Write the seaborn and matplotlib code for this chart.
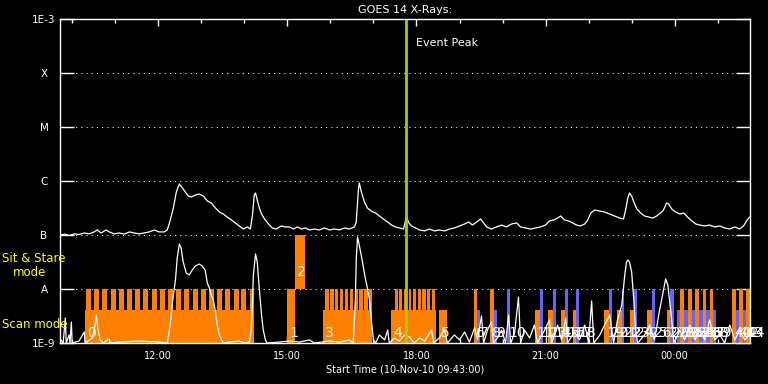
### Bibliotheken
import numpy as np
import matplotlib
matplotlib.use("Agg")
import matplotlib.pyplot as plt
from matplotlib.ticker import MultipleLocator, NullLocator
import seaborn as sns


### Daten
title = "GOES 14 X-Rays:"
x_label = "Start Time (10-Nov-10 09:43:00)"
time_start = "09:43"
time_end = "01:45"
event_peak = "17:46"

flux_ticks = [1e-9, 1e-8, 1e-7, 1e-6, 1e-5, 1e-4, 1e-3]
flux_labels = ["1E-9", "A", "B", "C", "M", "X", "1E-3"]
hour_ticks = ["12:00", "15:00", "18:00", "21:00", "00:00"]

# GOES Fluss (Stunden seit 10-Nov 00:00, W/m^2)
goes_time = [9.72, 9.84, 9.93, 10.05, 10.16, 10.28, 10.40, 10.51, 10.58, 10.67,
             10.79, 10.86, 10.98, 11.09, 11.21, 11.33, 11.44, 11.56, 11.67, 11.79,
             11.91, 12.02, 12.14, 12.21, 12.28, 12.35, 12.42, 12.49, 12.56, 12.63,
             12.70, 12.77, 12.86, 12.95, 13.05, 13.14, 13.23, 13.33, 13.42, 13.51,
             13.60, 13.70, 13.79, 13.88, 13.98, 14.07, 14.14, 14.19, 14.23, 14.26,
             14.30, 14.35, 14.40, 14.47, 14.56, 14.65, 14.74, 14.86, 14.95, 15.05,
             15.14, 15.23, 15.33, 15.42, 15.51, 15.63, 15.74, 15.86, 15.98, 16.09,
             16.21, 16.33, 16.44, 16.56, 16.60, 16.65, 16.67, 16.72, 16.79, 16.86,
             16.95, 17.05, 17.14, 17.23, 17.33, 17.42, 17.51, 17.60, 17.70, 17.77,
             17.81, 17.88, 17.98, 18.07, 18.19, 18.30, 18.42, 18.53, 18.65, 18.77,
             18.88, 19.00, 19.12, 19.21, 19.30, 19.40, 19.49, 19.56, 19.63, 19.74,
             19.86, 19.98, 20.09, 20.21, 20.33, 20.42, 20.53, 20.65, 20.77, 20.88,
             21.00, 21.09, 21.19, 21.28, 21.35, 21.44, 21.53, 21.63, 21.72, 21.81,
             21.91, 21.98, 22.05, 22.14, 22.26, 22.37, 22.49, 22.60, 22.72, 22.81,
             22.86, 22.91, 22.95, 23.00, 23.05, 23.12, 23.21, 23.30, 23.40, 23.49,
             23.58, 23.67, 23.74, 23.81, 23.86, 23.93, 24.02, 24.12, 24.21, 24.30,
             24.40, 24.49, 24.58, 24.70, 24.81, 24.93, 25.05, 25.16, 25.28, 25.40,
             25.51, 25.60, 25.67, 25.74]
goes_flux = [1.00e-7, 1.04e-7, 0.98e-7, 1.05e-7, 1.02e-7, 1.09e-7, 1.05e-7, 1.14e-7, 1.24e-7, 1.09e-7,
             1.24e-7, 1.14e-7, 1.05e-7, 1.09e-7, 1.04e-7, 1.14e-7, 1.09e-7, 1.05e-7, 1.09e-7, 1.14e-7,
             1.24e-7, 1.14e-7, 1.14e-7, 1.24e-7, 1.90e-7, 3.16e-7, 6.25e-7, 8.80e-7, 7.40e-7, 6.25e-7,
             5.27e-7, 5.05e-7, 5.50e-7, 5.74e-7, 5.27e-7, 4.27e-7, 3.92e-7, 3.16e-7, 2.67e-7, 2.45e-7,
             2.15e-7, 1.90e-7, 1.67e-7, 1.47e-7, 1.29e-7, 1.41e-7, 1.29e-7, 2.34e-7, 5.50e-7, 6.00e-7,
             4.45e-7, 3.16e-7, 2.45e-7, 1.98e-7, 1.60e-7, 1.35e-7, 1.29e-7, 1.47e-7, 1.41e-7, 1.41e-7,
             1.29e-7, 1.41e-7, 1.29e-7, 1.35e-7, 1.24e-7, 1.29e-7, 1.24e-7, 1.35e-7, 1.24e-7, 1.29e-7,
             1.24e-7, 1.35e-7, 1.29e-7, 1.41e-7, 1.74e-7, 6.80e-7, 9.20e-7, 6.25e-7, 4.10e-7, 3.16e-7,
             2.78e-7, 2.55e-7, 2.25e-7, 1.98e-7, 1.74e-7, 1.53e-7, 1.41e-7, 1.35e-7, 1.29e-7, 2.25e-7,
             1.74e-7, 1.47e-7, 1.35e-7, 1.24e-7, 1.19e-7, 1.29e-7, 1.19e-7, 1.24e-7, 1.19e-7, 1.29e-7,
             1.35e-7, 1.47e-7, 1.60e-7, 1.74e-7, 1.53e-7, 1.74e-7, 1.98e-7, 1.67e-7, 1.41e-7, 1.29e-7,
             1.41e-7, 1.53e-7, 1.41e-7, 1.60e-7, 1.67e-7, 1.41e-7, 1.35e-7, 1.29e-7, 1.35e-7, 1.41e-7,
             1.53e-7, 1.82e-7, 1.90e-7, 2.06e-7, 2.25e-7, 1.90e-7, 1.82e-7, 1.67e-7, 1.53e-7, 1.47e-7,
             1.60e-7, 1.90e-7, 2.55e-7, 2.90e-7, 2.78e-7, 2.67e-7, 2.45e-7, 2.25e-7, 2.06e-7, 1.98e-7,
             2.90e-7, 4.84e-7, 6.00e-7, 5.27e-7, 4.10e-7, 3.03e-7, 2.55e-7, 2.25e-7, 2.15e-7, 2.06e-7,
             2.25e-7, 2.55e-7, 2.90e-7, 3.92e-7, 3.75e-7, 3.03e-7, 2.67e-7, 2.45e-7, 2.55e-7, 2.15e-7,
             1.82e-7, 1.60e-7, 1.53e-7, 1.47e-7, 1.53e-7, 1.41e-7, 1.47e-7, 1.35e-7, 1.29e-7, 1.41e-7,
             1.29e-7, 1.47e-7, 1.82e-7, 2.15e-7]

# zweite (untere) Lichtkurve
low_time = [9.72, 9.74, 9.79, 9.84, 9.86, 9.93, 9.95, 9.98, 10.00, 10.16,
            10.28, 10.30, 10.47, 10.53, 10.56, 10.60, 10.65, 10.72, 10.86, 10.88,
            11.09, 11.56, 12.02, 12.21, 12.26, 12.30, 12.35, 12.40, 12.44, 12.49,
            12.53, 12.58, 12.65, 12.72, 12.79, 12.86, 12.95, 13.02, 13.09, 13.14,
            13.19, 13.23, 13.28, 13.33, 13.37, 13.42, 13.47, 13.51, 13.65, 13.88,
            14.00, 14.12, 14.16, 14.19, 14.21, 14.26, 14.30, 14.35, 14.40, 14.44,
            14.49, 14.53, 14.81, 15.05, 15.28, 15.51, 15.63, 15.98, 16.21, 16.44,
            16.53, 16.58, 16.60, 16.63, 16.67, 16.72, 16.77, 16.81, 16.86, 16.91,
            16.95, 17.00, 17.05, 17.14, 17.26, 17.33, 17.37, 17.49, 17.60, 17.72,
            17.84, 17.95, 18.07, 18.19, 18.35, 18.40, 18.53, 18.65, 18.72, 18.88,
            19.00, 19.12, 19.23, 19.35, 19.42, 19.51, 19.56, 19.65, 19.74, 19.79,
            19.88, 19.98, 20.07, 20.14, 20.19, 20.28, 20.37, 20.42, 20.51, 20.63,
            20.74, 20.81, 20.98, 21.09, 21.14, 21.28, 21.37, 21.47, 21.51, 21.67,
            21.79, 21.91, 22.00, 22.07, 22.12, 22.26, 22.37, 22.49, 22.58, 22.67,
            22.77, 22.84, 22.88, 22.91, 22.95, 23.00, 23.05, 23.09, 23.14, 23.30,
            23.42, 23.53, 23.65, 23.74, 23.79, 23.84, 23.88, 23.93, 23.98, 24.12,
            24.23, 24.35, 24.47, 24.58, 24.70, 24.81, 24.93, 25.05, 25.16, 25.28,
            25.40, 25.51, 25.63, 25.74]
low_flux = [1.00e-9, 1.14e-9, 1.00e-9, 2.90e-9, 1.00e-9, 1.41e-9, 1.00e-9, 2.45e-9, 1.00e-9, 1.09e-9,
            1.60e-9, 1.00e-9, 1.24e-9, 2.15e-9, 3.30e-9, 1.74e-9, 1.14e-9, 1.00e-9, 1.19e-9, 1.00e-9,
            1.04e-9, 1.09e-9, 1.04e-9, 1.00e-9, 1.74e-9, 3.30e-9, 7.70e-9, 1.47e-8, 3.75e-8, 6.80e-8,
            5.74e-8, 3.16e-8, 1.98e-8, 1.82e-8, 2.25e-8, 2.67e-8, 2.90e-8, 2.67e-8, 2.25e-8, 1.29e-8,
            1.04e-8, 7.70e-9, 6.25e-9, 3.75e-9, 2.15e-9, 1.41e-9, 1.14e-9, 1.00e-9, 1.04e-9, 1.09e-9,
            1.00e-9, 1.04e-9, 1.74e-9, 6.25e-9, 1.82e-8, 4.45e-8, 3.16e-8, 9.60e-9, 3.30e-9, 1.74e-9,
            1.14e-9, 1.00e-9, 1.04e-9, 1.09e-9, 1.04e-9, 1.14e-9, 1.00e-9, 1.09e-9, 1.04e-9, 1.14e-9,
            1.00e-9, 6.25e-9, 3.44e-8, 9.20e-8, 6.53e-8, 4.10e-8, 2.45e-8, 1.60e-8, 1.04e-8, 6.25e-9,
            2.67e-9, 1.14e-9, 1.00e-9, 1.41e-9, 1.14e-9, 1.74e-9, 1.00e-9, 1.24e-9, 1.09e-9, 1.41e-9,
            1.29e-9, 1.00e-9, 1.24e-9, 1.09e-9, 1.74e-9, 1.00e-9, 1.24e-9, 1.74e-9, 1.00e-9, 1.41e-9,
            1.14e-9, 1.60e-9, 1.04e-9, 1.90e-9, 1.14e-9, 3.16e-9, 1.00e-9, 1.74e-9, 2.45e-9, 1.00e-9,
            1.24e-9, 1.74e-9, 1.00e-9, 3.30e-9, 1.00e-9, 1.53e-9, 7.10e-9, 1.00e-9, 1.74e-9, 1.24e-9,
            2.15e-9, 1.00e-9, 1.74e-9, 2.67e-9, 1.00e-9, 2.15e-9, 1.14e-9, 2.90e-9, 1.00e-9, 1.60e-9,
            1.14e-9, 2.15e-9, 1.00e-9, 6.00e-9, 1.00e-9, 1.41e-9, 2.15e-9, 3.30e-9, 1.00e-9, 2.67e-9,
            5.05e-9, 1.82e-8, 3.16e-8, 3.44e-8, 3.16e-8, 2.06e-8, 6.25e-9, 1.74e-9, 1.00e-9, 1.41e-9,
            2.15e-9, 1.14e-9, 4.10e-9, 9.60e-9, 1.53e-8, 1.19e-8, 6.25e-9, 2.67e-9, 1.00e-9, 1.74e-9,
            1.14e-9, 2.15e-9, 1.14e-9, 1.74e-9, 1.14e-9, 2.67e-9, 1.14e-9, 1.41e-9, 1.00e-9, 2.15e-9,
            1.14e-9, 1.74e-9, 1.14e-9, 1.41e-9]

# Beobachtungen (Nummer = Index)
obs_start = ["10:18", "15:00", "15:11", "15:50", "17:25", "18:31",
             "19:20", "19:25", "19:42", "19:48", "20:06",
             "20:45", "20:52", "21:03", "21:10", "21:21", "21:27", "21:38", "21:43",
             "22:22", "22:28", "22:39", "22:46", "22:58", "23:03", "23:22", "23:28", "23:49", "23:54",
             "00:03", "00:08", "00:13", "00:19", "00:24", "00:29", "00:34", "00:39", "00:44", "00:49", "00:53",
             "01:20", "01:26", "01:30", "01:35", "01:39"]
obs_end = ["14:14", "15:11", "15:25", "16:58", "18:27", "18:42",
           "19:25", "19:29", "19:48", "19:52", "20:10",
           "20:52", "20:56", "21:10", "21:14", "21:27", "21:31", "21:43", "21:47",
           "22:28", "22:32", "22:46", "22:50", "23:03", "23:07", "23:28", "23:33", "23:54", "23:59",
           "00:08", "00:13", "00:19", "00:24", "00:29", "00:34", "00:39", "00:44", "00:49", "00:53", "00:58",
           "01:26", "01:30", "01:35", "01:39", "01:45"]
obs_kind = ["block", "tall", "sit", "block", "block", "block",
            "tall", "block", "tall", "block", "tall",
            "block", "tall", "block", "tall", "block", "tall", "block", "tall",
            "block", "tall", "block", "tall", "block", "tall", "block", "tall", "block", "tall",
            "block", "tall", "block", "tall", "block", "tall", "block", "tall", "block", "tall", "block",
            "tall", "block", "tall", "block", "tall"]
obs_color = ["orange", "orange", "orange", "orange", "orange", "orange",
             "orange", "blue", "orange", "blue", "blue",
             "orange", "blue", "orange", "blue", "orange", "blue", "orange", "blue",
             "orange", "blue", "orange", "blue", "orange", "blue", "orange", "blue", "orange", "blue",
             "blue", "orange", "blue", "orange", "blue", "orange", "blue", "orange", "blue", "orange", "blue",
             "orange", "blue", "orange", "blue", "orange"]

# Einzelne Raster der Scan-Bloecke 0, 3 und 4
raster_start = ["10:19", "10:31", "10:42", "10:54", "11:05", "11:17", "11:28", "11:39", "11:51",
                "12:02", "12:14", "12:25", "12:36", "12:48", "12:59", "13:11", "13:22", "13:33",
                "13:45", "13:56", "14:08",
                "15:53", "16:00", "16:07", "16:13", "16:20", "16:27", "16:34", "16:40", "16:47", "16:54",
                "17:30", "17:36", "17:42", "17:49", "17:55", "18:02", "18:08", "18:15", "18:21"]
raster_end = ["10:26", "10:38", "10:49", "11:01", "11:12", "11:24", "11:35", "11:46", "11:58",
              "12:09", "12:21", "12:32", "12:43", "12:55", "13:06", "13:18", "13:29", "13:40",
              "13:52", "14:03", "14:14",
              "15:58", "16:05", "16:11", "16:18", "16:25", "16:32", "16:38", "16:45", "16:52", "16:58",
              "17:34", "17:40", "17:47", "17:53", "18:00", "18:06", "18:13", "18:19", "18:26"]


### Darstellung
COLORS = {"orange": "#ff8000", "blue": "#6464ff"}
LEVEL_FLOOR = 1e-9
LEVEL_MID = 4.1e-9
LEVEL_A = 1e-8
LEVEL_B = 1e-7
LABEL_SCAN = 1.53e-9
LABEL_SIT = 2.06e-8


def to_hours(hhmm):
    """
    Wandelt 'HH:MM' in Stunden seit 10-Nov 00:00 um (Zeiten nach Mitternacht +24).
    """
    h, m = hhmm.split(":")
    hours = int(h) + int(m) / 60.0
    if hours < 9:
        hours += 24
    return hours


sns.set_style("dark", {"axes.facecolor": "black", "figure.facecolor": "black",
                       "axes.edgecolor": "white", "text.color": "white"})
plt.rcParams["font.family"] = ["DejaVu Sans"]

fig = plt.figure(figsize=(7.68, 3.84), dpi=100)
ax = fig.add_axes([60 / 768, 41 / 384, 690 / 768, 324 / 384])
ax.set_facecolor("black")
ax.set_yscale("log")
ax.set_ylim(LEVEL_FLOOR, 1e-3)
ax.set_xlim(to_hours(time_start), to_hours(time_end))

# gepunktete Linien bei den Klassen
for level in flux_ticks[1:-1]:
    ax.axhline(level, color="white", lw=0.75, ls=(0, (1, 4)), zorder=1)

# Beobachtungs-Balken
for i in range(len(obs_start)):
    s = to_hours(obs_start[i])
    e = to_hours(obs_end[i])
    col = COLORS[obs_color[i]]
    if obs_kind[i] == "sit":
        ax.bar(s, LEVEL_B - LEVEL_A, width=e - s, bottom=LEVEL_A, align="edge",
               color=col, linewidth=0, zorder=2)
        y_lab = LABEL_SIT
    else:
        top = LEVEL_A if obs_kind[i] == "tall" else LEVEL_MID
        ax.bar(s, top - LEVEL_FLOOR, width=e - s, bottom=LEVEL_FLOOR, align="edge",
               color=col, linewidth=0, zorder=2)
        y_lab = LABEL_SCAN
    ax.annotate(str(i), (s, y_lab), xytext=(1.5, 0), textcoords="offset points",
                ha="left", va="center", color="white", fontsize=10, zorder=6)

for r_s, r_e in zip(raster_start, raster_end):
    s = to_hours(r_s)
    ax.bar(s, LEVEL_A - LEVEL_FLOOR, width=to_hours(r_e) - s, bottom=LEVEL_FLOOR,
           align="edge", color=COLORS["orange"], linewidth=0, zorder=2)

# Lichtkurven
sns.lineplot(x=low_time, y=low_flux, ax=ax, color="white", linewidth=0.9,
             estimator=None, sort=False, zorder=4)
sns.lineplot(x=goes_time, y=goes_flux, ax=ax, color="white", linewidth=0.9,
             estimator=None, sort=False, zorder=4)

# Event Peak
t_peak = to_hours(event_peak)
ax.axvline(t_peak, color="#a0d000", lw=2, zorder=5)
ax.annotate("Event Peak", xy=(t_peak, 0.926), xycoords=ax.get_xaxis_transform(),
            xytext=(7, 0), textcoords="offset points", color="white", fontsize=8,
            va="center", ha="left")

# Achsen
ax.set_yticks(flux_ticks, labels=flux_labels)
ax.yaxis.set_minor_locator(NullLocator())
ax.set_xticks([to_hours(t) for t in hour_ticks], labels=hour_ticks)
ax.xaxis.set_minor_locator(MultipleLocator(1))
ax.tick_params(axis="y", which="major", direction="in", length=10, width=1,
               colors="white", left=True, right=True, labelsize=7.5, pad=11.5)
for lbl in ax.get_yticklabels():
    lbl.set_horizontalalignment("center")
ax.tick_params(axis="x", which="major", direction="in", length=5, width=1,
               colors="white", top=True, bottom=True, labelsize=7, pad=6)
ax.tick_params(axis="x", which="minor", direction="in", length=3, width=1,
               colors="white", top=True, bottom=True)
for sp in ax.spines.values():
    sp.set_color("white")
    sp.set_linewidth(1)
    sp.set_zorder(7)

ax.set_title(title, color="white", fontsize=8, pad=4)
ax.set_xlabel(x_label, color="white", fontsize=7, labelpad=2)
ax.set_ylabel("")

# Modus-Beschriftung
fig.text(2 / 768, 1 - 259 / 384, "Sit & Stare", ha="left", va="center", color="yellow", fontsize=8.5)
fig.text(13 / 768, 1 - 272 / 384, "mode", ha="left", va="center", color="yellow", fontsize=8.5)
fig.text(2 / 768, 1 - 324 / 384, "Scan mode", ha="left", va="center", color="yellow", fontsize=8.5)

fig.savefig("out.png", dpi=100, facecolor="black")
